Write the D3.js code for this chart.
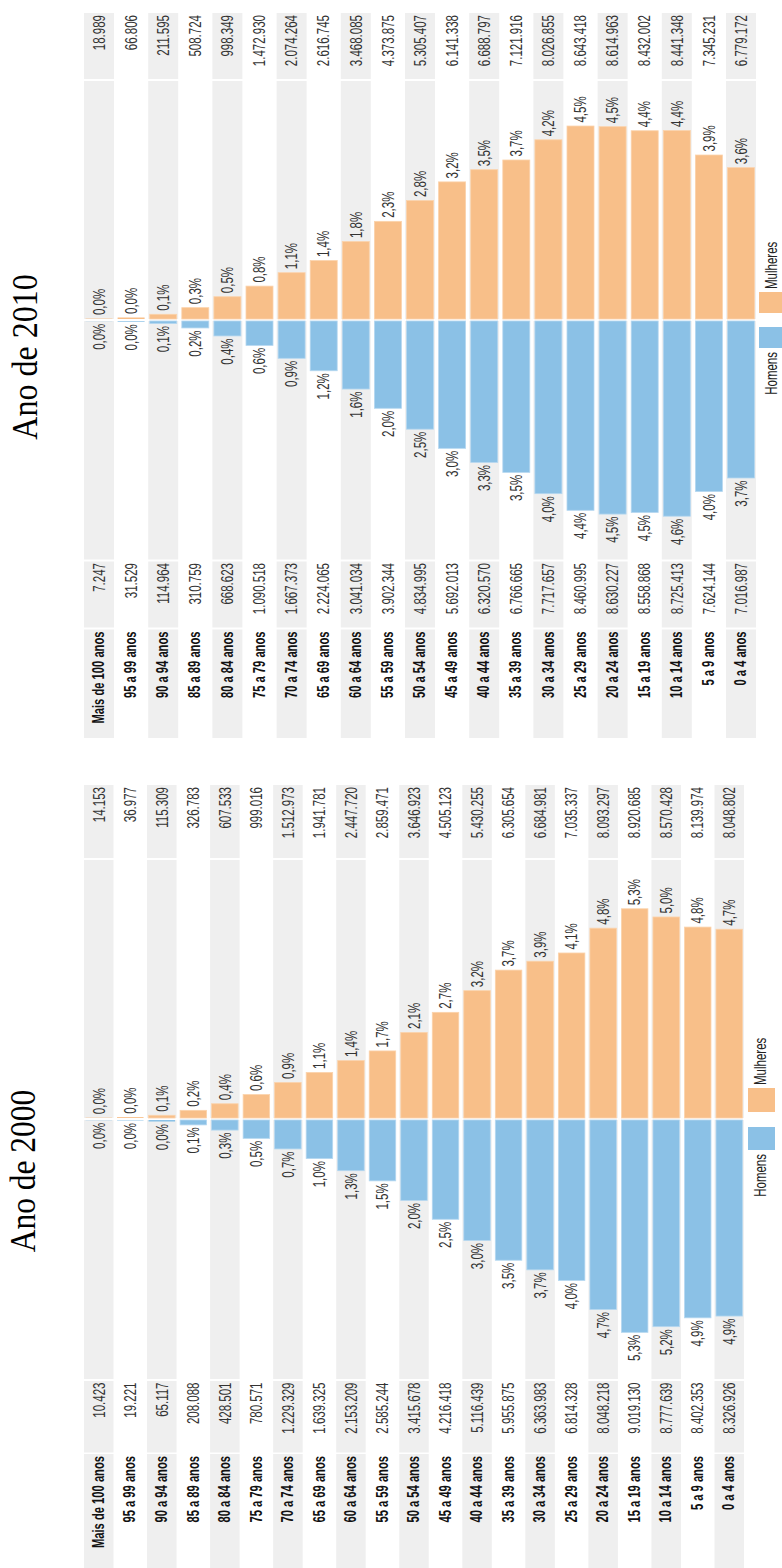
<!DOCTYPE html>
<html>
<head>
<meta charset="utf-8">
<script src="https://cdn.jsdelivr.net/npm/d3@7"></script>
<style>
html,body{margin:0;padding:0;background:#fff;}
svg{display:block;}
</style>
</head>
<body>
<svg id="chart" width="782" height="1568"></svg>
<script>
// ---------- DATA ----------
const ages = ["Mais de 100 anos","95 a 99 anos","90 a 94 anos","85 a 89 anos","80 a 84 anos",
  "75 a 79 anos","70 a 74 anos","65 a 69 anos","60 a 64 anos","55 a 59 anos","50 a 54 anos",
  "45 a 49 anos","40 a 44 anos","35 a 39 anos","30 a 34 anos","25 a 29 anos","20 a 24 anos",
  "15 a 19 anos","10 a 14 anos","5 a 9 anos","0 a 4 anos"];

const women2010 = [18989,66806,211595,508724,998349,1472930,2074264,2616745,3468085,4373875,5305407,
  6141338,6688797,7121916,8026855,8643418,8614963,8432002,8441348,7345231,6779172];
const men2010 = [7247,31529,114964,310759,668623,1090518,1667373,2224065,3041034,3902344,4834995,
  5692013,6320570,6766665,7717657,8460995,8630227,8558868,8725413,7624144,7016987];
const pctWomen2010 = [0.0,0.0,0.1,0.3,0.5,0.8,1.1,1.4,1.8,2.3,2.8,3.2,3.5,3.7,4.2,4.5,4.5,4.4,4.4,3.9,3.6];
const pctMen2010 = [0.0,0.0,0.1,0.2,0.4,0.6,0.9,1.2,1.6,2.0,2.5,3.0,3.3,3.5,4.0,4.4,4.5,4.5,4.6,4.0,3.7];

const women2000 = [14153,36977,115309,326783,607533,999016,1512973,1941781,2447720,2859471,3646923,
  4505123,5430255,6305654,6684981,7035337,8093297,8920685,8570428,8139974,8048802];
const men2000 = [10423,19221,65117,208088,428501,780571,1229329,1639325,2153209,2585244,3415678,
  4216418,5116439,5955875,6363983,6814328,8048218,9019130,8777639,8402353,8326926];
const pctWomen2000 = [0.0,0.0,0.1,0.2,0.4,0.6,0.9,1.1,1.4,1.7,2.1,2.7,3.2,3.7,3.9,4.1,4.8,5.3,5.0,4.8,4.7];
const pctMen2000 = [0.0,0.0,0.0,0.1,0.3,0.5,0.7,1.0,1.3,1.5,2.0,2.5,3.0,3.5,3.7,4.0,4.7,5.3,5.2,4.9,4.9];

const legendLabels = ["Mulheres","Homens"];

// ---------- LAYOUT ----------
const panels = [
  { title:"Ano de 2010", women:women2010, men:men2010, pw:pctWomen2010, pm:pctMen2010,
    x0:84, x1:756, pad:0.0654, wv:[13,79], wb:[81,319], mb:[321,559.5], mv:[561.5,627.5], lab:[629.5,738],
    dom:10.66e6, tx:37, ty:357, tsize:32,
    lg:{x:759, w:27, mul:[292,313], hom:[327,348], tx:771, mulStart:289, homEnd:352} },
  { title:"Ano de 2000", women:women2000, men:men2000, pw:pctWomen2000, pm:pctMen2000,
    x0:84, x1:744, pad:0.0642, wv:[785,858], wb:[860,1118], mb:[1120,1379], mv:[1381,1452.5], lab:[1454,1568],
    dom:11.0e6, tx:35, ty:1171, tsize:31.5,
    lg:{x:748, w:27, mul:[1088,1112], hom:[1127,1150], tx:760, mulStart:1085, homEnd:1154} }
];

const ORANGE = "#F8BF89", ORANGE_EDGE = "#FBD3AC";
const BLUE = "#8BC1E6", BLUE_EDGE = "#B6D8F0";
const GREY = "#EFEFEF";
const K = 1.4; // vertical glyph stretch of the small texts
const FONT = "'Liberation Sans', Arial, sans-serif";

const loc = d3.formatLocale({decimal:",", thousands:".", grouping:[3], currency:["R$",""]});
const fmtInt = loc.format(",d");
const fmtPct = v => loc.format(".1f")(v) + "%";

const svg = d3.select("#chart");

function vtext(g, x, y, str, anchor, opts) {
  opts = opts || {};
  return g.append("text")
    .attr("transform", `translate(${x},${y}) rotate(-90) scale(1,${opts.k || K})`)
    .attr("text-anchor", anchor)
    .attr("dominant-baseline", "central")
    .attr("font-family", opts.family || FONT)
    .attr("font-size", opts.size || 11.5)
    .attr("font-weight", opts.weight || "normal")
    .attr("fill", opts.fill || "#222")
    .text(str);
}

panels.forEach(p => {
  const g = svg.append("g");
  const x = d3.scaleBand().domain(ages).range([p.x0, p.x1]).paddingInner(p.pad).paddingOuter(0);
  const bw = x.bandwidth();
  const yW = d3.scaleLinear().domain([0, p.dom]).range([p.wb[1], p.wb[0]]);
  const yM = d3.scaleLinear().domain([0, p.dom]).range([p.mb[0], p.mb[1]]);

  // grey stripes (alternate columns), split into table cells
  const cells = [p.wv, p.wb, p.mb, p.mv, p.lab];
  ages.forEach((a, i) => {
    if (i % 2 !== 0) return;
    cells.forEach(c => {
      g.append("rect").attr("x", x(a)).attr("width", bw)
        .attr("y", c[0]).attr("height", c[1] - c[0]).attr("fill", GREY);
    });
  });

  // women bars
  g.selectAll(".bw").data(p.women).join("rect")
    .attr("x", (d, i) => x(ages[i]) + 1.5)
    .attr("width", bw - 3)
    .attr("y", d => yW(d))
    .attr("height", d => p.wb[1] - yW(d))
    .attr("fill", ORANGE)
    .attr("stroke", d => (p.wb[1] - yW(d)) > 2 ? ORANGE_EDGE : "none")
    .attr("stroke-width", 0.8);

  // men bars
  g.selectAll(".bm").data(p.men).join("rect")
    .attr("x", (d, i) => x(ages[i]) + 1.5)
    .attr("width", bw - 3)
    .attr("y", p.mb[0])
    .attr("height", d => yM(d) - p.mb[0])
    .attr("fill", BLUE)
    .attr("stroke", d => (yM(d) - p.mb[0]) > 2 ? BLUE_EDGE : "none")
    .attr("stroke-width", 0.8);

  ages.forEach((a, i) => {
    const cx = x(a) + bw / 2;
    // values
    vtext(g, cx, p.wv[0] + 2, fmtInt(p.women[i]), "end", {fill:"#333"});
    vtext(g, cx, p.mv[0] + 1.5, fmtInt(p.men[i]), "end", {fill:"#333"});
    // age labels
    vtext(g, cx, p.lab[0] + 2, a, "end", {weight:"bold", size:11.2, fill:"#111"});
    // percents
    vtext(g, cx, yW(p.women[i]) - 3.5, fmtPct(p.pw[i]), "start", {fill:"#333"});
    vtext(g, cx, yM(p.men[i]) + 2.5, fmtPct(p.pm[i]), "end", {fill:"#333"});
  });

  // title
  vtext(g, p.tx, p.ty, p.title, "middle",
    {family:"'Liberation Serif','Times New Roman',serif", size:p.tsize, k:1.12, fill:"#000"})
    .attr("dominant-baseline", "alphabetic");

  // legend
  const L = p.lg;
  g.append("rect").attr("x", L.x).attr("width", L.w).attr("y", L.mul[0])
    .attr("height", L.mul[1] - L.mul[0]).attr("fill", ORANGE);
  g.append("rect").attr("x", L.x).attr("width", L.w).attr("y", L.hom[0])
    .attr("height", L.hom[1] - L.hom[0]).attr("fill", BLUE);
  vtext(g, L.tx, L.mulStart, legendLabels[0], "start", {fill:"#222"});
  vtext(g, L.tx, L.homEnd, legendLabels[1], "end", {fill:"#222"});
});
</script>
</body>
</html>
